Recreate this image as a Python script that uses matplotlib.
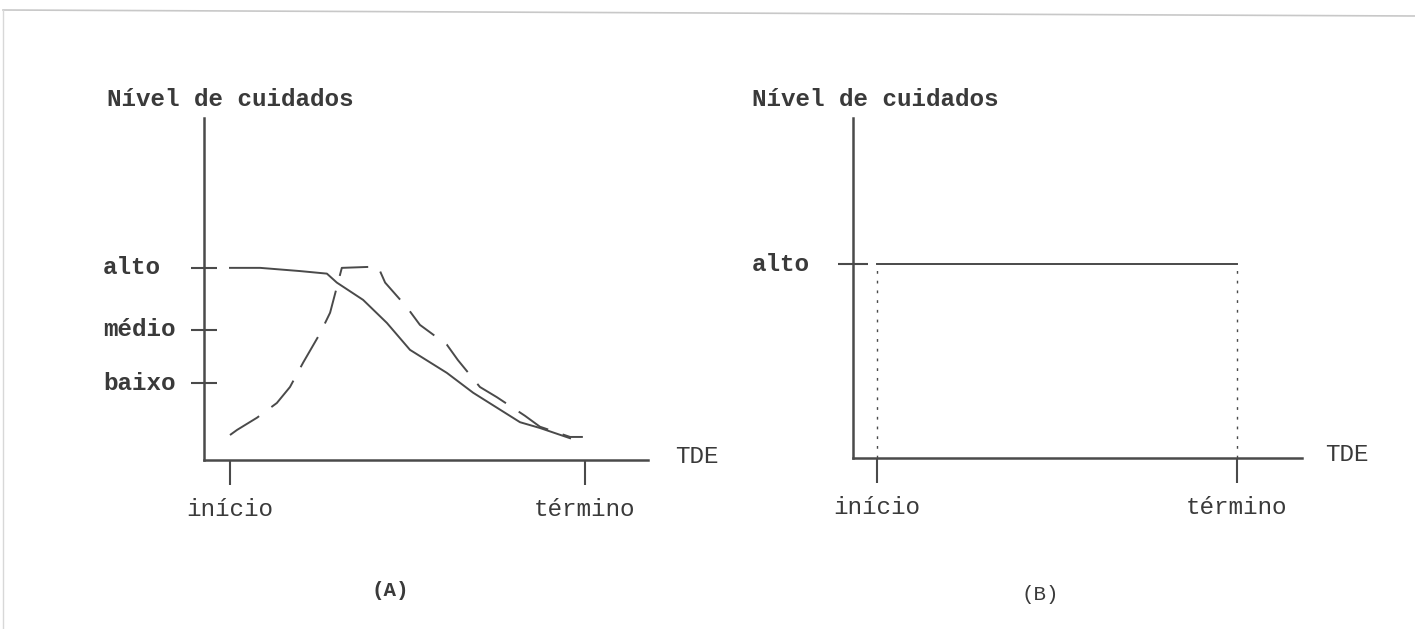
import matplotlib.pyplot as plt
from matplotlib.lines import Line2D

# level scale: x-axis = 0, 'alto' = 3
LEVELS_A = ['baixo', 'médio', 'alto']
LEVEL_POS_A = [1.20, 2.03, 3.00]
LEVELS_B = ['alto']
LEVEL_POS_B = [3.00]
TIME_TICKS = [0, 1]
TIME_LABELS = ['início', 'término']

# panel A, solid curve
solid_t = [0.0, 0.085, 0.197, 0.273, 0.301, 0.375, 0.442, 0.507, 0.611,
           0.685, 0.817, 0.873, 0.958]
solid_v = [3.0, 3.0, 2.95, 2.91, 2.77, 2.50, 2.14, 1.72, 1.36,
           1.05, 0.59, 0.50, 0.34]

# panel A, dashed curve
dash_t = [0.0, 0.02, 0.076, 0.132, 0.169, 0.206, 0.254, 0.282, 0.301, 0.315,
          0.417, 0.437, 0.499, 0.535, 0.611, 0.642, 0.704, 0.752, 0.831,
          0.873, 0.958, 0.994]
dash_v = [0.39, 0.47, 0.66, 0.89, 1.14, 1.52, 1.98, 2.30, 2.70, 3.0,
          3.02, 2.77, 2.38, 2.11, 1.80, 1.56, 1.14, 0.98, 0.69,
          0.52, 0.36, 0.36]

# panel B, constant level
b_t = [0, 1]
b_v = [3.0, 3.0]

INK = '#4a4a4a'
TXT = '#3a3a3a'
FONT = 'Liberation Mono'
FS = 17.5

plt.rcParams['font.family'] = FONT
plt.rcParams['lines.scale_dashes'] = False


def setup(ax, xlim, ylim, yticks, ylabels, lab_x, tde_x, ytick_len):
    ax.set_xlim(*xlim)
    ax.set_ylim(*ylim)
    for s in ['top', 'right']:
        ax.spines[s].set_visible(False)
    for s in ['left', 'bottom']:
        ax.spines[s].set_color(INK)
        ax.spines[s].set_linewidth(1.8)
    ax.set_facecolor('none')
    ax.set_xticks(TIME_TICKS)
    ax.set_xticklabels(TIME_LABELS, fontsize=FS, color=TXT)
    ax.tick_params(axis='x', direction='out', length=18, width=1.5,
                   color=INK, pad=9)
    ax.set_yticks(yticks)
    ax.set_yticklabels([])
    ax.tick_params(axis='y', direction='inout', length=ytick_len, width=1.5,
                   color=INK)
    tr = ax.get_yaxis_transform()
    for y, lab in zip(yticks, ylabels):
        ax.text(lab_x, y, lab, transform=tr, ha='left', va='center',
                fontsize=FS, fontweight='bold', color=TXT)
    ax.text(tde_x, 0.01, 'TDE', transform=ax.transAxes, ha='left',
            va='center', fontsize=FS, color=TXT)


fig = plt.figure(figsize=(14.15, 6.29), dpi=100)

# panel A
axA = fig.add_axes([204 / 1415, (629 - 460) / 629, 444 / 1415, 342 / 629])
setup(axA, (-0.0732, 1.1775), (0, 5.34), LEVEL_POS_A, LEVELS_A,
      -0.2275, 1.061, 19)
axA.plot(solid_t, solid_v, color=INK, lw=1.4)
axA.plot(dash_t, dash_v, color=INK, lw=1.4, dashes=(25, 11))

# panel B
axB = fig.add_axes([853 / 1415, (629 - 458) / 629, 449 / 1415, 340 / 629])
setup(axB, (-0.0667, 1.1806), (0, 5.26), LEVEL_POS_B, LEVELS_B,
      -0.225, 1.051, 21)
axB.plot(b_t, b_v, color=INK, lw=1.4)
for t in b_t:
    axB.plot([t, t], [0, b_v[0]], color=INK, lw=1.0, linestyle=(0, (2, 5)))

# headings and panel letters
fig.text(107 / 1415, 1 - 100 / 629, 'Nível de cuidados', fontsize=FS,
         fontweight='bold', color=TXT, ha='left', va='center')
fig.text(752 / 1415, 1 - 100 / 629, 'Nível de cuidados', fontsize=FS,
         fontweight='bold', color=TXT, ha='left', va='center')
fig.text(390 / 1415, 1 - 591 / 629, '(A)', fontsize=15, fontweight='bold',
         color=TXT, ha='center', va='center')
fig.text(1040 / 1415, 1 - 594 / 629, '(B)', fontsize=15, color=TXT,
         ha='center', va='center')

# faint scan border
fig.add_artist(Line2D([3 / 1415, 1], [1 - 10 / 629, 1 - 16 / 629],
                      color='#c8c8c8', lw=1.2))
fig.add_artist(Line2D([3 / 1415, 3 / 1415], [1 - 10 / 629, 0],
                      color='#d8d8d8', lw=1.0))

fig.savefig('out.png', dpi=100)
